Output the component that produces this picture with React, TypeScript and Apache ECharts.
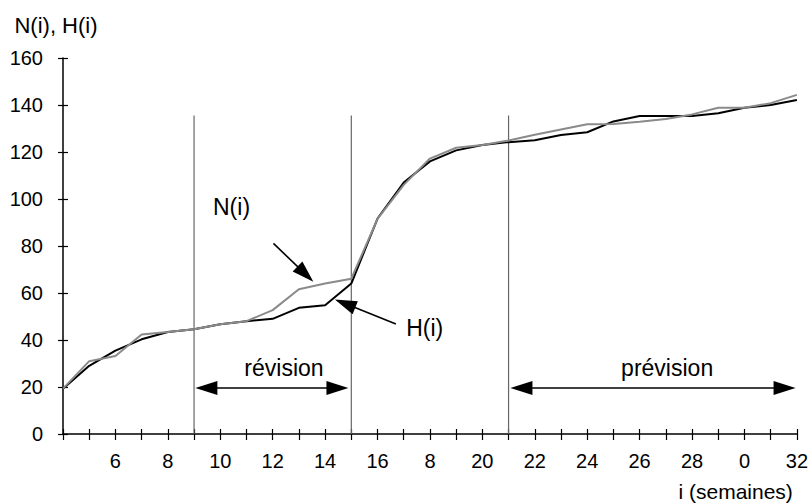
import React, { useEffect, useRef } from "react";
import * as echarts from "echarts";

// ---- data ----
const weeks = [4, 5, 6, 7, 8, 9, 10, 11, 12, 13, 14, 15, 16, 17, 18, 19, 20, 21, 22, 23, 24, 25, 26, 27, 28, 29, 30, 31, 32];
const hValues = [19.3, 29, 35.5, 40.3, 43.4, 44.6, 46.7, 48, 49, 53.7, 54.8, 64, 91.7, 107, 116, 120.7, 123, 124.2, 125, 127.2, 128.4, 133, 135.3, 135.3, 135.3, 136.5, 138.8, 140, 142.1];
const nValues = [19.3, 31, 33.2, 42.3, 43.4, 44.6, 46.7, 48, 52.7, 61.6, 64, 66.1, 91.5, 106, 117.2, 121.8, 123, 124.9, 127.3, 129.6, 131.8, 131.9, 132.9, 134, 136, 138.8, 138.8, 140.8, 144.3];

const xTickValues = [6, 8, 10, 12, 14, 16, 18, 20, 22, 24, 26, 28, 30, 32];
const xTickLabels = ["6", "8", "10", "12", "14", "16", "8", "20", "22", "24", "26", "28", "0", "32"];

const dividerWeeks = [9, 15, 21];
const dividerTop = 135.5;

// double arrows (arrowhead centres): [x1, x2, y]
const spanArrows = [
  [9.47, 14.47, 19.6],
  [21.49, 31.53, 19.6],
];
// pointer arrows (start, arrowhead centre): [xFrom, yFrom, xTo, yTo]
const pointerArrows = [
  [12.03, 81.1, 13.25, 68.0],
  [16.7, 46.8, 14.76, 55.5],
];
const annotationTexts = ["N(i)", "H(i)", "révision", "prévision"];
const annotationPos = [
  [10.43, 96.4],
  [17.8, 45],
  [12.43, 28],
  [27.05, 28],
];

const FONT = "'Liberation Sans', Arial, Helvetica, sans-serif";

export default function App() {
  const ref = useRef<HTMLDivElement>(null);
  useEffect(() => {
    if (!ref.current) return;
    const chart = echarts.init(ref.current, undefined, { renderer: "svg" });
    const labelMap: Record<number, string> = {};
    xTickValues.forEach((v, i) => (labelMap[v] = xTickLabels[i]));

    const dividerSeries = dividerWeeks.map((w) => ({
      type: "line",
      data: [
        [w, 0],
        [w, dividerTop],
      ],
      showSymbol: false,
      silent: true,
      lineStyle: { color: "#666", width: 1.2 },
      z: 1,
    }));

    const arrowData: any[] = [];
    spanArrows.forEach(([x1, x2, y]) => {
      arrowData.push([
        { coord: [x1, y], symbol: "triangle" },
        { coord: [x2, y], symbol: "triangle" },
      ]);
    });
    pointerArrows.forEach(([x1, y1, x2, y2]) => {
      arrowData.push([
        { coord: [x1, y1], symbol: "none" },
        { coord: [x2, y2], symbol: "triangle" },
      ]);
    });

    const option: any = {
      animation: false,
      backgroundColor: "#fff",
      textStyle: { fontFamily: FONT },
      grid: { left: 63, right: 14, top: 58, bottom: 70 },
      xAxis: [
        {
          type: "value",
          min: 4,
          max: 32,
          interval: 1,
          splitLine: { show: false },
          axisLine: { lineStyle: { color: "#000", width: 1.5 } },
          axisTick: { length: 6, lineStyle: { color: "#000", width: 1.2 } },
          axisLabel: {
            margin: 17,
            color: "#000",
            fontSize: 20,
            fontFamily: FONT,
            formatter: (v: number) => labelMap[v] ?? "",
            showMinLabel: true,
            showMaxLabel: true,
          },
          name: "i (semaines)",
          nameLocation: "end",
          nameGap: -4,
          nameTextStyle: {
            color: "#000",
            fontSize: 21,
            fontFamily: FONT,
            align: "right",
            verticalAlign: "top",
            padding: [47, 0, 0, 0],
          },
        },
        {
          type: "value",
          min: 4,
          max: 32,
          interval: 1,
          position: "bottom",
          splitLine: { show: false },
          axisLine: { show: false },
          axisTick: { inside: true, length: 5, lineStyle: { color: "#000", width: 1.2 } },
          axisLabel: { show: false },
        },
      ],
      yAxis: [
        {
          type: "value",
          min: 0,
          max: 160,
          interval: 20,
          splitLine: { show: false },
          axisLine: { show: true, lineStyle: { color: "#000", width: 1.5 } },
          axisTick: { show: true, length: 5, lineStyle: { color: "#000", width: 1.2 } },
          axisLabel: { margin: 20, color: "#000", fontSize: 20, fontFamily: FONT },
          name: "N(i), H(i)",
          nameLocation: "end",
          nameGap: 33,
          nameTextStyle: {
            color: "#000",
            fontSize: 22,
            fontFamily: FONT,
            align: "center",
            verticalAlign: "middle",
            padding: [0, 14, 0, 0],
          },
        },
        {
          type: "value",
          min: 0,
          max: 160,
          interval: 20,
          position: "left",
          splitLine: { show: false },
          axisLine: { show: false },
          axisTick: { show: true, inside: true, length: 5, lineStyle: { color: "#000", width: 1.2 } },
          axisLabel: { show: false },
        },
      ],
      series: [
        ...dividerSeries,
        {
          name: "H(i)",
          type: "line",
          data: weeks.map((w, i) => [w, hValues[i]]),
          showSymbol: false,
          lineStyle: { color: "#000", width: 2 },
          z: 3,
          markLine: {
            silent: true,
            animation: false,
            symbolSize: [14, 22],
            itemStyle: { color: "#000" },
            lineStyle: { color: "#000", width: 1.6, type: "solid" },
            label: { show: false },
            emphasis: { disabled: true },
            data: arrowData,
          },
        },
        {
          name: "N(i)",
          type: "line",
          data: weeks.map((w, i) => [w, nValues[i]]),
          showSymbol: false,
          lineStyle: { color: "#8a8a8a", width: 2 },
          z: 4,
        },
        {
          type: "scatter",
          symbolSize: 0,
          silent: true,
          itemStyle: { opacity: 1, color: "#000" },
          data: annotationPos.map((p, i) => ({ value: p, name: annotationTexts[i] })),
          label: {
            show: true,
            position: "inside",
            formatter: (p: any) => p.name,
            color: "#000",
            opacity: 1,
            fontSize: 23,
            fontFamily: FONT,
          },
          z: 5,
        },
      ],
    };
    chart.setOption(option);
    return () => chart.dispose();
  }, []);
  return (
    <div
      ref={ref}
      style={{ position: "fixed", left: 0, top: 0, width: 811, height: 504, background: "#fff" }}
    />
  );
}
